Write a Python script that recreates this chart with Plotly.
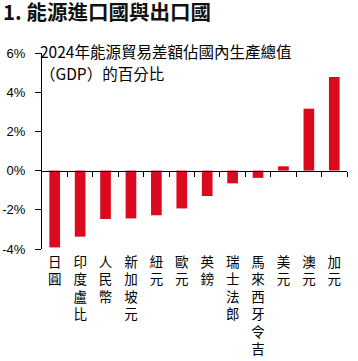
import plotly.graph_objects as go

categories = ["日圓", "印度盧比", "人民幣", "新加坡元", "紐元", "歐元", "英鎊",
              "瑞士法郎", "馬來西牙令吉", "美元", "澳元", "加元"]
values = [-3.92, -3.37, -2.47, -2.44, -2.28, -1.93, -1.30, -0.65, -0.37, 0.22, 3.16, 4.77]
y_tick_values = [-4, -2, 0, 2, 4, 6]
y_tick_labels = ["-4%", "-2%", "0%", "2%", "4%", "6%"]
title_text = "1. 能源進口國與出口國"
subtitle_lines = ["2024年能源貿易差額佔國內生產總值", "（GDP）的百分比"]

CJK = "Noto Sans CJK TC"
LAT = "Liberation Sans, Arial"
RED = "#DC0A1E"

n = len(categories)
vertical_labels = ["<br>".join(list(c)) for c in categories]

fig = go.Figure()
fig.add_trace(go.Bar(x=categories, y=values, marker_color=RED, marker_line_width=0,
                     width=0.42, showlegend=False))
fig.add_trace(go.Scatter(x=[], y=[], xaxis="x2", yaxis="y", showlegend=False,
                         hoverinfo="skip"))

fig.update_layout(
    width=358, height=361,
    margin=dict(l=42, r=11, t=53, b=112),
    paper_bgcolor="white", plot_bgcolor="white",
    font=dict(family=CJK, color="black"),
    xaxis=dict(type="category", range=[-0.5, n - 0.5], showline=False, ticks="",
               showgrid=False, zeroline=False, automargin=False,
               tickmode="array", tickvals=categories, ticktext=vertical_labels,
               tickangle=0, tickfont=dict(family=CJK, size=13.5, color="black"),
               ticklabelstandoff=3),
    xaxis2=dict(overlaying="x", anchor="free", position=0.4, side="bottom",
                range=[-0.5, n - 0.5], showline=True, linecolor="black", linewidth=1,
                ticks="outside", ticklen=5, tickcolor="black", tickwidth=1,
                tickmode="array", tickvals=[k + 0.5 for k in range(n)],
                showticklabels=False, showgrid=False, zeroline=False, automargin=False),
    yaxis=dict(range=[-4, 6], showline=True, linecolor="black", linewidth=1,
               ticks="outside", ticklen=6, tickcolor="black", tickwidth=1,
               tickmode="array", tickvals=y_tick_values, ticktext=y_tick_labels,
               tickfont=dict(family=LAT, size=13, color="black"), automargin=False,
               showgrid=False, zeroline=False, ticklabelstandoff=7),
    title=dict(text="<b>" + title_text + "</b>", xref="container", yref="container",
               x=3 / 358, y=1 - 6 / 361, xanchor="left", yanchor="top",
               font=dict(family=CJK, size=20.5, color="#111111")),
)

fig.add_annotation(text=subtitle_lines[0], xref="paper", yref="paper",
                   x=-4 / 304.7, y=1 + 15 / 196.3, xanchor="left", yanchor="top",
                   showarrow=False, font=dict(family=CJK, size=15.5, color="black"))
fig.add_annotation(text=subtitle_lines[1], xref="paper", yref="paper",
                   x=-4 / 304.7, y=1 - 7 / 196.3, xanchor="left", yanchor="top",
                   showarrow=False, font=dict(family=CJK, size=15.5, color="black"))

fig.write_html("out.html", config={"displayModeBar": False},
               post_script="document.body.style.margin='0';document.body.style.padding='0';")
